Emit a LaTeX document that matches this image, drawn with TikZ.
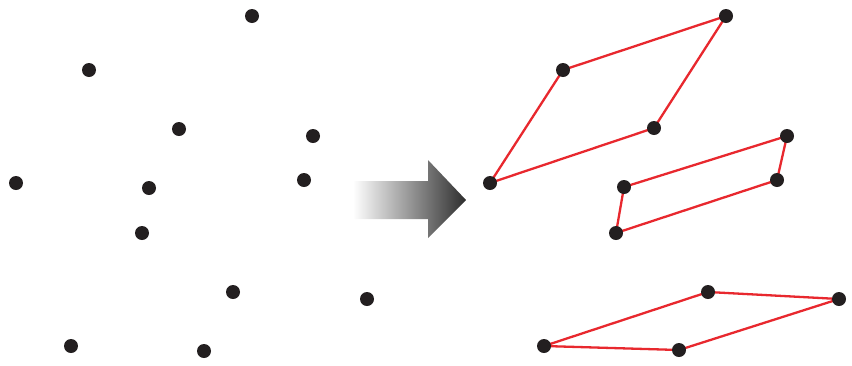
\documentclass[tikz,border=0pt]{standalone}
\usetikzlibrary{backgrounds}
\definecolor{dotc}{HTML}{231F20}
\definecolor{linec}{HTML}{E8282E}
\tikzset{
  dot/.style={circle,fill=dotc,inner sep=0pt,minimum size=14pt},
  edge/.style={draw=linec,line width=2.3pt,line join=round}
}
\begin{document}
\begin{tikzpicture}[x=1pt,y=-1pt]
\useasboundingbox (0,0) rectangle (852,365);
% left scattered points
\node[dot] (l1) at (252,16) {};
\node[dot] (l2) at (89,70) {};
\node[dot] (l3) at (179,129) {};
\node[dot] (l4) at (313,136) {};
\node[dot] (l5) at (16,183) {};
\node[dot] (l6) at (149,188) {};
\node[dot] (l7) at (304,180) {};
\node[dot] (l8) at (142,233) {};
\node[dot] (l9) at (233,292) {};
\node[dot] (l10) at (367,299) {};
\node[dot] (l11) at (71,346) {};
\node[dot] (l12) at (204,351) {};
% arrow
\shade[left color=white,right color=black!82,draw=none]
  (353,181) -- (428,181) -- (428,160) -- (466,200) -- (428,238) -- (428,219) -- (353,219) -- cycle;
% right points
\node[dot] (r1) at (726,16) {};
\node[dot] (r2) at (563,70) {};
\node[dot] (r3) at (654,128) {};
\node[dot] (r4) at (787,136) {};
\node[dot] (r5) at (490,183) {};
\node[dot] (r6) at (624,187) {};
\node[dot] (r7) at (777,180) {};
\node[dot] (r8) at (616,233) {};
\node[dot] (r9) at (708,292) {};
\node[dot] (r10) at (839,299) {};
\node[dot] (r11) at (544,346) {};
\node[dot] (r12) at (679,350) {};
\begin{scope}[on background layer]
\draw[edge] (r5.center) -- (r2.center) -- (r1.center) -- (r3.center) -- cycle;
\draw[edge] (r6.center) -- (r4.center) -- (r7.center) -- (r8.center) -- cycle;
\draw[edge] (r11.center) -- (r9.center) -- (r10.center) -- (r12.center) -- cycle;
\end{scope}
\end{tikzpicture}
\end{document}
